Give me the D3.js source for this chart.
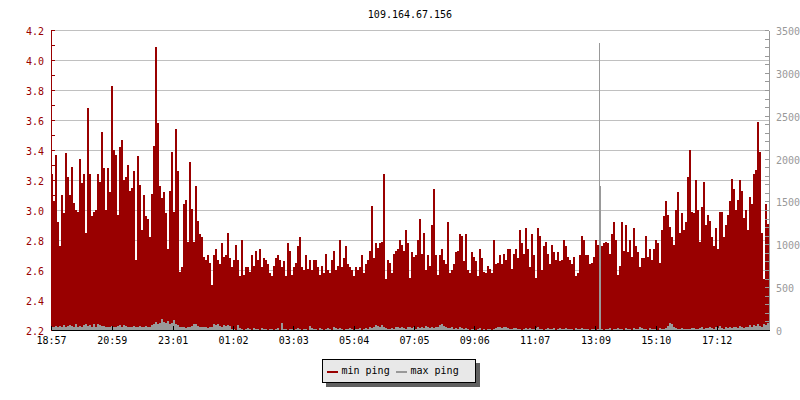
<!DOCTYPE html>
<html><head><meta charset="utf-8">
<script src="https://cdn.jsdelivr.net/npm/d3@7"></script>
<style>
body{margin:0;background:#fff;}
svg{display:block;font-family:"DejaVu Sans Mono",monospace;}
</style></head>
<body><svg id="c" width="800" height="400"></svg>
<script>
// ---- data ----
const title = "109.164.67.156";
const startTime = "18:57";
const spanMinutes = 1440;
const xTickLabels = ["18:57","20:59","23:01","01:02","03:03","05:04","07:05","09:06","11:07","13:09","15:10","17:12"];
const leftTicks = [2.2,2.4,2.6,2.8,3.0,3.2,3.4,3.6,3.8,4.0,4.2];
const rightTicks = [0,500,1000,1500,2000,2500,3000,3500];
const seriesNames = ["min ping","max ping"];

// min ping (left axis)
const minPing = [
3.24,3.06,3.37,2.92,2.76,3.10,2.98,3.38,3.22,3.10,
3.29,3.05,3.00,2.99,3.34,3.18,3.24,2.85,3.68,3.24,
2.96,2.99,3.00,3.24,3.19,3.52,3.28,3.00,3.28,3.12,
3.83,3.40,3.37,2.97,3.42,3.47,3.20,3.22,3.30,3.13,
3.15,3.26,2.67,3.36,3.17,2.87,3.10,2.96,2.94,2.82,
3.11,3.43,4.09,3.58,3.16,3.08,3.12,2.98,2.74,3.13,
3.39,2.99,3.54,3.26,2.59,2.62,3.04,3.07,2.79,3.32,
3.01,2.79,3.16,2.93,2.84,2.82,2.69,2.67,2.70,2.65,
2.50,2.70,2.74,2.67,2.64,2.78,2.69,2.70,2.85,2.68,
2.62,2.67,2.77,2.67,2.56,2.80,2.57,2.62,2.62,2.59,
2.70,2.63,2.73,2.67,2.74,2.62,2.68,2.67,2.64,2.58,
2.56,2.63,2.68,2.70,2.67,2.62,2.66,2.56,2.78,2.73,
2.57,2.62,2.65,2.76,2.82,2.62,2.60,2.70,2.61,2.67,
2.60,2.67,2.67,2.62,2.57,2.63,2.58,2.71,2.60,2.58,
2.67,2.73,2.60,2.63,2.80,2.62,2.68,2.76,2.64,2.62,
2.60,2.56,2.62,2.60,2.62,2.70,2.58,2.64,2.67,2.73,
3.03,2.68,2.78,2.75,2.78,2.79,3.24,2.54,2.67,2.65,
2.58,2.71,2.73,2.74,2.80,2.77,2.73,2.87,2.78,
2.55,2.72,2.69,2.70,2.80,2.94,2.71,2.85,2.60,2.70,
2.63,2.90,3.14,2.70,2.57,2.70,2.74,2.67,2.64,2.92,
2.58,2.60,2.64,2.72,2.73,2.84,2.83,2.66,2.84,2.60,
2.58,2.72,2.69,2.66,2.56,2.74,2.68,2.59,2.58,2.63,
2.61,2.58,2.80,2.64,2.65,2.70,2.64,2.71,2.67,2.74,
2.74,2.61,2.71,2.74,2.68,2.87,2.78,2.71,2.88,2.74,
2.62,2.84,2.70,2.55,2.88,2.83,2.60,2.76,2.79,2.71,
2.64,2.77,2.72,2.67,2.72,2.66,2.67,2.80,2.76,2.69,
2.67,2.64,2.69,2.56,2.58,2.70,2.83,2.80,2.70,
2.70,2.64,2.65,2.69,2.80,2.77,2.70,2.76,2.78,2.79,
2.78,2.71,2.84,2.92,2.80,2.57,2.63,2.92,2.73,2.90,
2.72,2.80,2.69,2.88,2.76,2.72,2.62,2.68,2.68,2.83,
2.69,2.74,2.67,2.74,2.80,2.78,2.65,2.87,2.96,3.06,
2.97,2.89,2.82,2.77,3.00,3.12,2.85,2.98,2.87,2.92,
3.22,3.40,2.99,2.98,3.20,3.00,2.79,3.02,3.19,2.90,
2.97,2.93,2.82,2.76,2.88,2.74,2.99,2.99,2.82,2.90,
2.97,3.06,3.21,3.14,3.00,3.07,3.20,3.13,2.95,3.00,
2.87,3.09,3.04,3.24,3.27,3.59,3.39,2.85,2.54,3.04,
2.91
];

// max ping (right axis)
const maxPing = [
40,35,50,30,45,40,55,35,45,60,
45,35,70,40,50,35,60,70,45,55,
40,65,35,70,60,50,45,30,40,35,
50,40,30,45,55,35,60,45,40,30,
35,45,30,40,50,35,30,45,40,35,
60,75,95,70,85,128,90,80,110,70,
85,120,75,60,35,30,40,25,35,30,
45,65,70,50,40,35,30,40,25,35,
40,70,55,65,45,40,60,50,55,45,
10,15,5,58,20,10,5,15,20,10,
5,25,10,15,5,20,10,15,5,10,
15,5,10,20,5,82,15,10,5,10,
15,5,10,20,10,5,15,10,5,47,
25,10,15,5,20,10,5,15,25,10,
5,30,20,15,25,10,5,15,10,20,
10,5,15,10,20,5,10,25,15,30,
20,40,55,45,30,60,35,20,10,15,
25,10,30,40,20,35,25,15,30,
30,20,35,15,40,25,30,20,45,30,
25,35,20,40,30,55,70,45,30,25,
20,35,15,25,10,30,20,15,25,10,
5,10,15,5,10,20,5,10,5,15,
10,5,15,20,30,35,25,40,30,20,
15,10,20,25,15,10,5,15,20,10,
25,15,10,20,30,15,10,5,15,20,
10,15,20,5,10,25,15,10,20,15,
10,15,5,20,10,15,25,10,15,
10,5,15,10,5,10,1680,10,5,15,
10,20,5,15,10,25,15,10,5,20,
10,15,5,20,10,15,30,20,10,15,
5,20,10,15,10,5,20,15,10,25,
50,85,75,40,20,15,10,20,15,10,
15,10,20,25,15,10,20,30,15,20,
25,35,20,15,30,25,45,20,15,30,
20,35,25,40,30,20,45,30,25,35,
40,55,35,60,45,70,50,40,65,55,80
];
// single narrow max-ping peak (minutes after start, value)
const maxPingPeak = { minute: 1100, value: 3352 };

// ---- chart ----
const colors = { min: "#990000", max: "#999999", grid: "#c0c0c0" };
const plot = { left: 51, right: 769, top: 30, bottom: 330 };
const svg = d3.select("#c");

const [sh, sm] = startTime.split(":").map(Number);
const t0 = new Date(2000, 0, 1, sh, sm);
const minuteToDate = m => new Date(t0.getTime() + m * 60000);
const x = d3.scaleTime().domain([t0, minuteToDate(spanMinutes)]).range([plot.left, plot.right]);
const yL = d3.scaleLinear().domain([2.2, 4.2]).range([plot.bottom, plot.top]);
const yR = d3.scaleLinear().domain([0, 3500]).range([plot.bottom, plot.top]);

const n = minPing.length;
const stepMin = spanMinutes / n;
const pts = d3.range(n + 1).map(i => ({ t: minuteToDate(i * stepMin), a: minPing[Math.min(i, n - 1)], b: maxPing[Math.min(i, n - 1)] }));

// grid
svg.append("g").selectAll("line").data(leftTicks.slice(1)).join("line")
  .attr("x1", plot.left).attr("x2", plot.right)
  .attr("y1", d => yL(d)).attr("y2", d => yL(d))
  .attr("stroke", colors.grid).attr("shape-rendering", "crispEdges");

// min ping area
svg.append("path").datum(pts)
  .attr("d", d3.area().curve(d3.curveStepAfter).x(d => x(d.t)).y0(yL(2.2)).y1(d => yL(d.a)))
  .attr("fill", colors.min).attr("shape-rendering", "crispEdges");

// max ping area
svg.append("path").datum(pts)
  .attr("d", d3.area().curve(d3.curveStepAfter).x(d => x(d.t)).y0(yR(0)).y1(d => yR(d.b)))
  .attr("fill", colors.max).attr("shape-rendering", "crispEdges");

// narrow peak
svg.append("rect")
  .attr("x", Math.floor(x(minuteToDate(maxPingPeak.minute)))).attr("width", 1)
  .attr("y", yR(maxPingPeak.value)).attr("height", yR(0) - yR(maxPingPeak.value))
  .attr("fill", colors.max).attr("shape-rendering", "crispEdges");

// left axis
const leftMinor = d3.range(22, 43).map(v => v / 10);
const gL = svg.append("g").attr("transform", `translate(${plot.left},0)`);
gL.call(d3.axisLeft(yL).tickValues(leftMinor).tickSize(-4).tickSizeOuter(0).tickFormat(""));
gL.call(g => g.select(".domain").remove());
const gL2 = svg.append("g").attr("transform", `translate(${plot.left},0)`)
  .call(d3.axisLeft(yL).tickValues(leftTicks).tickSize(0).tickPadding(7).tickFormat(d3.format(".1f")));
[gL, gL2].forEach(g => {
  g.selectAll("line").attr("stroke", colors.min).attr("shape-rendering", "crispEdges");
  g.selectAll("path").attr("stroke", colors.min).attr("shape-rendering", "crispEdges");
  g.selectAll("text").attr("fill", colors.min).attr("font-size", 10).attr("font-family", "DejaVu Sans Mono").attr("dy", "0.45em");
});

// right axis
const rightMinor = d3.range(0, 3501, 100);
const gR = svg.append("g").attr("transform", `translate(${plot.right},0)`);
gR.call(d3.axisRight(yR).tickValues(rightMinor).tickSize(-4).tickSizeOuter(0).tickFormat(""));
gR.call(g => g.select(".domain").remove());
const gR2 = svg.append("g").attr("transform", `translate(${plot.right},0)`)
  .call(d3.axisRight(yR).tickValues(rightTicks).tickSize(0).tickPadding(7).tickFormat(d3.format("d")));
[gR, gR2].forEach(g => {
  g.selectAll("line").attr("stroke", colors.max).attr("shape-rendering", "crispEdges");
  g.selectAll("path").attr("stroke", colors.max).attr("shape-rendering", "crispEdges");
  g.selectAll("text").attr("fill", colors.max).attr("font-size", 10).attr("font-family", "DejaVu Sans Mono").attr("dy", "0.45em");
});

// bottom axis
const tickDates = xTickLabels.map(s => {
  const [h, m] = s.split(":").map(Number);
  return minuteToDate(((h * 60 + m) - (sh * 60 + sm) + 1440) % 1440);
});
const gB = svg.append("g").attr("transform", `translate(0,${plot.bottom})`)
  .call(d3.axisBottom(x).tickValues(tickDates).tickSize(-4).tickSizeOuter(0).tickPadding(7)
    .tickFormat((d, i) => xTickLabels[i]));
gB.selectAll("line,path").attr("stroke", "#000").attr("shape-rendering", "crispEdges");
gB.selectAll("text").attr("fill", "#000").attr("font-size", 10).attr("font-family", "DejaVu Sans Mono");

// title
svg.append("text").attr("x", (plot.left + plot.right) / 2).attr("y", 18)
  .attr("text-anchor", "middle").attr("font-size", 10).attr("fill", "#000").text(title);

// legend
const lg = svg.append("g").attr("transform", "translate(322,359)");
lg.append("rect").attr("x", 4).attr("y", 4).attr("width", 154).attr("height", 24).attr("fill", "#606060");
lg.append("rect").attr("x", 0.5).attr("y", 0.5).attr("width", 153).attr("height", 23)
  .attr("fill", "#e8e8e8").attr("stroke", "#000").attr("shape-rendering", "crispEdges");
const items = [{ name: seriesNames[0], c: colors.min, x: 5 }, { name: seriesNames[1], c: colors.max, x: 74 }];
items.forEach(it => {
  lg.append("rect").attr("x", it.x).attr("y", 12).attr("width", 11).attr("height", 2).attr("fill", it.c);
  lg.append("text").attr("x", it.x + 14.5).attr("y", 15).attr("font-size", 10).attr("fill", "#000").text(it.name);
});
</script></body></html>
